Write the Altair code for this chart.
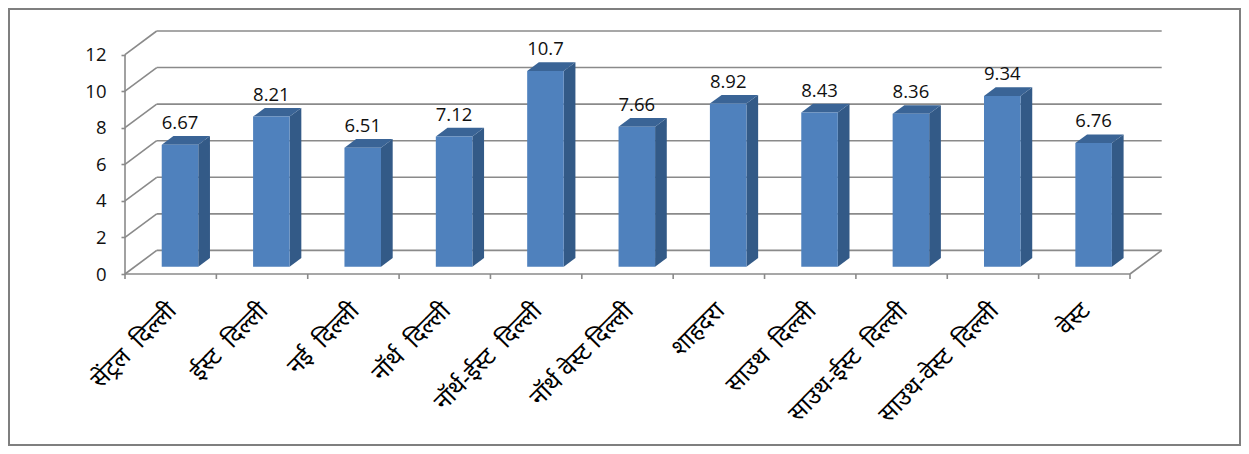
import altair as alt
import pandas as pd

NB = "\u00a0\u00a0"
categories = [f"सेंट्रल{NB}दिल्ली", f"ईस्ट{NB}दिल्ली", f"नई{NB}दिल्ली", f"नॉर्थ{NB}दिल्ली", f"नॉर्थ-ईस्ट{NB}दिल्ली",
              "नॉर्थ\u00a0वेस्ट\u00a0दिल्ली", "शाहदरा", f"साउथ{NB}दिल्ली", f"साउथ-ईस्ट{NB}दिल्ली", f"साउथ-वेस्ट{NB}दिल्ली", "वेस्ट"]
values = [6.67, 8.21, 6.51, 7.12, 10.7, 7.66, 8.92, 8.43, 8.36, 9.34, 6.76]
y_ticks = [0, 2, 4, 6, 8, 10, 12]

# plot geometry: one x unit is one category slot, y is in data units
W, H = 1036.7, 243
WALL_X, WALL_Y = 0.347, 1.29      # depth of the chart box
BAR_X, BAR_W = 0.402, 0.40        # front face inside a slot
FLOOR = 0.40                      # lift of a bar's front above the box's front edge
DEP_X, DEP_Y = 0.128, 0.475       # depth of a bar
N = len(categories)

GRID = "#8a8a8a"
FRONT = "#4F81BD"
SIDE = "#335A87"
TOP = "#3A6496"
FONT = "Open Sans"

xs = alt.Scale(domain=[0, N + WALL_X], nice=False, zero=False)
ys = alt.Scale(domain=[0, 12 + WALL_Y], nice=False, zero=False)
y_axis = alt.Axis(values=y_ticks, title=None, domain=False, grid=False, tickSize=4, tickColor=GRID, tickWidth=1.6,
                  labelPadding=15, labelFont=FONT, labelFontSize=18.5, labelColor="#111111")
X = lambda f: alt.X(f, type="quantitative", scale=xs, axis=None)
Y = lambda f: alt.Y(f, type="quantitative", scale=ys, axis=y_axis)

bars = pd.DataFrame({"name": categories, "v": values, "i": range(N)})
bars["xl"] = bars.i + BAR_X
bars["xr"] = bars.xl + BAR_W
bars["xm"] = bars.xl + BAR_W / 2
bars["lo"] = FLOOR
bars["t"] = bars.v + FLOOR
bars["label"] = [f"{v:g}" for v in values]
bars["labely"] = bars.t + DEP_Y
bars["cx"] = bars.i + 0.5
bars["zero"] = 0

side_rows, top_rows = [], []
for i, v in enumerate(values):
    xl = i + BAR_X
    xr = xl + BAR_W
    t = v + FLOOR
    side_rows += [dict(b=i, x=xr, a=FLOOR, c=t), dict(b=i, x=xr + DEP_X, a=FLOOR + DEP_Y, c=t + DEP_Y)]
    top_rows += [dict(b=i, x=xl, a=t, c=t), dict(b=i, x=xl + DEP_X, a=t, c=t + DEP_Y),
                 dict(b=i, x=xr, a=t, c=t + DEP_Y), dict(b=i, x=xr + DEP_X, a=t + DEP_Y, c=t + DEP_Y)]

wall_rows = []
for v in y_ticks:
    wall_rows.append(dict(x=0, x2=WALL_X, y=v, y2=v + WALL_Y))
    wall_rows.append(dict(x=WALL_X, x2=N + WALL_X, y=v + WALL_Y, y2=v + WALL_Y))
wall_rows.append(dict(x=N, x2=N + WALL_X, y=0, y2=WALL_Y))
wall_rows.append(dict(x=0, x2=N, y=0, y2=0))
wall_rows.append(dict(x=0, x2=0, y=0, y2=12))

rule = alt.Chart(pd.DataFrame(wall_rows)).mark_rule(color=GRID, strokeWidth=1.6).encode(
    x=X("x"), x2="x2", y=Y("y"), y2="y2")

ticks = alt.Chart(pd.DataFrame({"x": list(range(N + 1))})).mark_rule(color=GRID, strokeWidth=1.6).encode(
    x=X("x"), y=alt.value(H), y2=alt.value(H + 5))

side = alt.Chart(pd.DataFrame(side_rows)).mark_area(color=SIDE).encode(
    x=X("x"), y=Y("a"), y2="c", detail="b:N")
top = alt.Chart(pd.DataFrame(top_rows)).mark_area(color=TOP).encode(
    x=X("x"), y=Y("a"), y2="c", detail="b:N")
front = alt.Chart(bars).mark_rect(color=FRONT).encode(
    x=X("xl"), x2="xr", y=Y("lo"), y2="t")
labels = alt.Chart(bars).mark_text(font=FONT, fontSize=18.5, baseline="bottom", dy=-3, color="#111111").encode(
    x=X("xm"), y=Y("labely"), text="label:N")
cats = alt.Chart(bars).mark_text(font="Noto Sans", fontSize=24, angle=315, align="right", baseline="middle",
                                 dx=-22, dy=25, color="#000000").encode(
    x=X("cx"), y=Y("zero"), text="name:N")

frame = alt.Chart(pd.DataFrame({"a": [1]})).mark_rect(fillOpacity=0, stroke="#7f7f7f", strokeWidth=2).encode(
    x=alt.value(-116), x2=alt.value(1115), y=alt.value(-22), y2=alt.value(414))

chart = alt.layer(frame, rule, ticks, side, top, front, labels, cats).properties(
    width=W, height=H, background="white",
    padding={"left": 117, "top": 23, "right": 79.3, "bottom": 172},
    autosize=alt.AutoSizeParams(type="none"),
).configure_view(stroke=None)

chart.save("out.html", embed_options={"renderer": "svg", "actions": False})
